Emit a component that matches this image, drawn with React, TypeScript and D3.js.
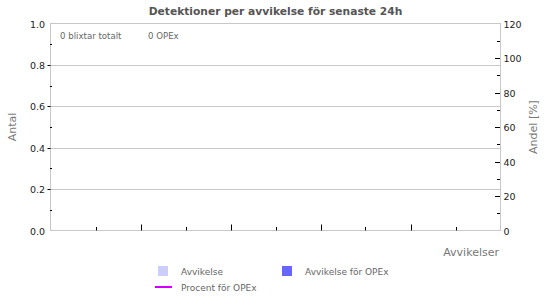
import React from "react";
import * as d3 from "d3";

const title = "Detektioner per avvikelse för senaste 24h";
const leftTicks = [0, 0.2, 0.4, 0.6, 0.8, 1.0];
const leftMinor = [0.1, 0.3, 0.5, 0.7, 0.9];
const rightTicks = [0, 20, 40, 60, 80, 100, 120];
const rightMinor = [10, 30, 50, 70, 90, 110];
const xTicks = [1, 2, 3, 4, 5, 6, 7, 8, 9];
const avvikelse: number[] = [];
const avvikelseOPEx: number[] = [];
const procentOPEx: number[] = [];
const totalBlixtar = 0;
const totalOPEx = 0;

const W = 550, H = 300;
const M = { left: 50.5, right: 500.5, top: 23.5, bottom: 230.5 };
const FONT = "DejaVu Sans";

export default function App() {
  const y = d3.scaleLinear().domain([0, 1]).range([M.bottom, M.top]);
  const y2 = d3.scaleLinear().domain([0, 120]).range([M.bottom, M.top]);
  const x = d3.scaleLinear().domain([0, 10]).range([M.left, M.right]);
  const fmt = d3.format(".1f");
  const midY = (M.top + M.bottom) / 2;
  return (
    <svg width={W} height={H} style={{ position: "absolute", left: 0, top: 0, background: "#fff" }} fontFamily={FONT}>
      <rect x={0} y={0} width={W} height={H} fill="#fff" />
      <text x={275.5} y={15} textAnchor="middle" fontSize={10.7} fontWeight="bold" fill="#555">{title}</text>
      {/* grid */}
      {leftTicks.filter(t => t > 0 && t < 1).map(t => (
        <line key={"g" + t} x1={M.left} x2={M.right} y1={Math.round(y(t)) + 0.5} y2={Math.round(y(t)) + 0.5} stroke="#c8c8c8" />
      ))}
      {/* frame */}
      <rect x={M.left} y={M.top} width={M.right - M.left} height={M.bottom - M.top} fill="none" stroke="#c8c8c8" />
      {/* data (empty) */}
      {avvikelse.map((v, i) => <rect key={"a" + i} x={x(i)} y={y(v)} width={10} height={M.bottom - y(v)} fill="#ccccff" />)}
      {avvikelseOPEx.map((v, i) => <rect key={"b" + i} x={x(i)} y={y(v)} width={10} height={M.bottom - y(v)} fill="#6666ff" />)}
      {procentOPEx.length > 0 && <path d={d3.line<number>().x((_, i) => x(i)).y(v => y2(v))(procentOPEx) || ""} stroke="#cc00ff" fill="none" strokeWidth={2} />}
      {/* left axis */}
      {leftTicks.map(t => {
        const yy = Math.round(y(t)) + 0.5;
        return (
          <g key={"l" + t}>
            {t > 0 && t < 1 && <line x1={47.5} x2={50.5} y1={yy} y2={yy} stroke="#000" />}
            <text x={45} y={yy} dy="0.35em" textAnchor="end" fontSize={9.5} fill="#222">{fmt(t)}</text>
          </g>
        );
      })}
      {leftMinor.map(t => {
        const yy = Math.round(y(t)) + 0.5;
        return <line key={"lm" + t} x1={50} x2={52} y1={yy} y2={yy} stroke="#000" />;
      })}
      {/* right axis */}
      {rightTicks.map(t => {
        const yy = Math.round(y2(t)) + 0.5;
        return (
          <g key={"r" + t}>
            {t > 0 && t < 120 && <line x1={495} x2={500} y1={yy} y2={yy} stroke="#000" />}
            <text x={503.5} y={yy} dy="0.35em" textAnchor="start" fontSize={9.5} fill="#222">{t}</text>
          </g>
        );
      })}
      {rightMinor.map(t => {
        const yy = Math.round(y2(t)) + 0.5;
        return <line key={"rm" + t} x1={497} x2={500} y1={yy} y2={yy} stroke="#000" />;
      })}
      {/* x axis ticks */}
      {xTicks.map(t => {
        const xx = Math.round(x(t)) + 0.5;
        const tall = t % 2 === 0;
        return <line key={"x" + t} x1={xx} x2={xx} y1={M.bottom} y2={M.bottom - (tall ? 6 : 3.5)} stroke="#000" />;
      })}
      <text x={60} y={38.5} fontSize={8.6} fill="#666">{totalBlixtar} blixtar totalt</text>
      <text x={148} y={38.5} fontSize={8.6} fill="#666">{totalOPEx} OPEx</text>
      <text transform={`translate(16,${midY}) rotate(-90)`} textAnchor="middle" fontSize={11} fill="#777">Antal</text>
      <text transform={`translate(537,${midY}) rotate(-90)`} textAnchor="middle" fontSize={11} fill="#777">Andel [%]</text>
      <text x={499} y={256} textAnchor="end" fontSize={11} fill="#777">Avvikelser</text>
      {/* legend */}
      <rect x={158} y={266} width={10} height={10} fill="#ccccff" />
      <text x={181} y={275} fontSize={9} fill="#666">Avvikelse</text>
      <rect x={282} y={266} width={10} height={10} fill="#6666ff" />
      <text x={305} y={275} fontSize={9} fill="#666">Avvikelse för OPEx</text>
      <line x1={155} x2={172} y1={287} y2={287} stroke="#cc00ff" strokeWidth={2} />
      <text x={181} y={290.5} fontSize={9} fill="#666">Procent för OPEx</text>
    </svg>
  );
}
